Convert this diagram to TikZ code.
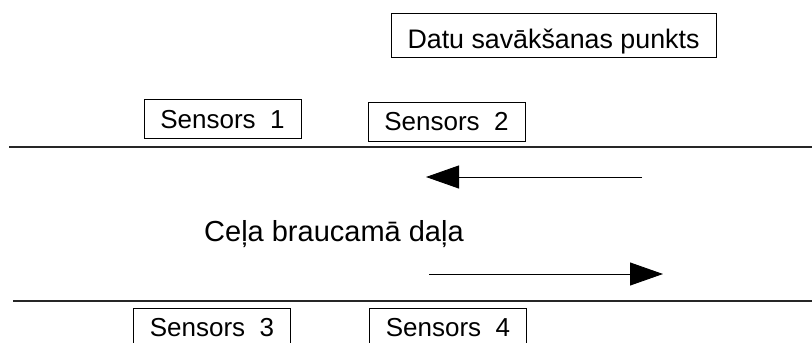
\documentclass[tikz,border=0pt]{standalone}
\usepackage{fontspec}
\setmainfont{Liberation Sans}
\usetikzlibrary{arrows.meta}
\begin{document}
\begin{tikzpicture}[x=1pt,y=-1pt,
  box/.style={draw=black,line width=0.9pt,inner sep=0pt,text depth=0pt,
    font=\fontsize{26}{30}\selectfont},
  sensorbox/.style={box,minimum width=157pt,minimum height=39pt,text height=18.6pt},
  roadedge/.style={draw=black!85,line width=1.1pt},
  flow/.style={line width=0.9pt,-{Triangle[length=33pt,width=23pt]}},
  label/.style={inner sep=0pt,font=\fontsize{29}{34}\selectfont}]
  \useasboundingbox (0,0) rectangle (812,343);

  % data collection point
  \node[box,minimum width=325pt,minimum height=44pt,text height=26pt,
    font=\fontsize{26.8}{31}\selectfont]
    (hub) at (553.5,35) {Datu savākšanas punkts};

  % sensors on both sides of the road
  \node[sensorbox] (s1) at (222.5,119) {Sensors~~1};
  \node[sensorbox] (s2) at (446.5,121.5) {Sensors~~2};
  \node[sensorbox] (s3) at (212,327.5) {Sensors~~3};
  \node[sensorbox] (s4) at (448,327.5) {Sensors~~4};

  % road edges
  \coordinate (e1a) at (9,147);
  \coordinate (e1b) at (812,147);
  \coordinate (e2a) at (13,301);
  \coordinate (e2b) at (812,301);
  \draw[roadedge] (e1a) -- (e1b);
  \draw[roadedge] (e2a) -- (e2b);

  % road label
  \node[label,anchor=base west] (road) at (204,241) {Ceļa braucamā daļa};

  % traffic directions
  \coordinate (l1) at (642,177);
  \coordinate (l2) at (426,177);
  \coordinate (r1) at (429,274);
  \coordinate (r2) at (663,274);
  \draw[flow] (l1) -- (l2);
  \draw[flow] (r1) -- (r2);
\end{tikzpicture}
\end{document}
